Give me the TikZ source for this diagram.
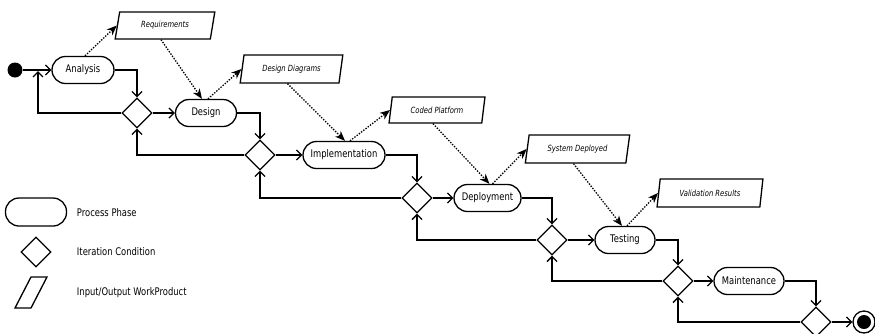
\documentclass[tikz,border=0pt]{standalone}
\usepackage{fontspec}
\setmainfont{DejaVu Sans}[FakeStretch=0.8]
\usetikzlibrary{arrows.meta,shapes.geometric,calc}

\begin{document}
\begin{tikzpicture}[x=1pt,y=-1pt,
  line width=1.3pt,
  phase/.style={draw, rectangle, rounded corners=13.5pt, minimum height=27pt,
    inner sep=0pt, font=\fontsize{10.5}{12}\selectfont},
  cond/.style={draw, diamond, minimum width=30pt, minimum height=30pt,
    inner sep=0pt, aspect=1},
  product/.style={draw, trapezium, trapezium left angle=74,
    trapezium right angle=106, trapezium stretches=true, minimum height=28pt,
    inner sep=0pt, font=\fontsize{8.5}{10}\selectfont\itshape},
  flow/.style={-{Straight Barb[length=5pt,width=10pt]}},
  data/.style={dash pattern=on 1.4pt off 1.4pt,
    -{Stealth[length=10pt,width=8pt,inset=3pt]}},
  legendtext/.style={anchor=west, font=\fontsize{10.5}{12}\selectfont}
]
\useasboundingbox (0,0) rectangle (875,333);

% start and end states
\node[circle, fill, inner sep=0pt, minimum size=15pt] (start) at (15,70) {};
\node[circle, draw, inner sep=0pt, minimum size=22pt] (stop) at (864,322) {};
\node[circle, fill, inner sep=0pt, minimum size=14pt] (stopdot) at (stop) {};

% process phases
\node[phase, minimum width=62pt] (an) at (83,70) {Analysis};
\node[phase, minimum width=61pt] (de) at (206,113) {Design};
\node[phase, minimum width=82pt] (im) at (344,155) {Implementation};
\node[phase, minimum width=67pt] (dp) at (487.5,198) {Deployment};
\node[phase, minimum width=60pt] (te) at (625,240) {Testing};
\node[phase, minimum width=70pt] (ma) at (749,281) {Maintenance};

% iteration conditions
\node[cond] (d1) at (137,113) {};
\node[cond] (d2) at (260,155) {};
\node[cond] (d3) at (417,198) {};
\node[cond] (d4) at (552,240) {};
\node[cond] (d5) at (678,281) {};
\node[cond] (d6) at (816,322) {};

% work products
\node[product, minimum width=100pt, minimum height=27pt] (req) at (165,25.5) {Requirements};
\node[product, minimum width=103pt] (dd) at (291.5,69) {Design Diagrams};
\node[product, minimum width=96pt, minimum height=26pt] (cp) at (437,110) {Coded Platform};
\node[product, minimum width=105pt] (sd) at (577.5,149) {System Deployed};
\node[product, minimum width=106pt] (vr) at (710,193) {Validation Results};

% control flow
\coordinate (j0) at (38,71);
\draw[flow] (start) -- (an);
\draw[flow] (an.east) -| (d1.north);
\draw[flow] (d1.east) -- (de.west);
\draw[flow] (d1.west) -| (j0);
\draw[flow] (de.east) -| (d2.north);
\draw[flow] (d2.east) -- (im.west);
\draw[flow] (d2.west) -| (d1.south);
\draw[flow] (im.east) -| (d3.north);
\draw[flow] (d3.east) -- (dp.west);
\draw[flow] (d3.west) -| (d2.south);
\draw[flow] (dp.east) -| (d4.north);
\draw[flow] (d4.east) -- (te.west);
\draw[flow] (d4.west) -| (d3.south);
\draw[flow] (te.east) -| (d5.north);
\draw[flow] (d5.east) -- (ma.west);
\draw[flow] (d5.west) -| (d4.south);
\draw[flow] (ma.east) -| (d6.north);
\draw[flow] (d6.east) -- (stop.west);
\draw[flow] (d6.west) -| (d5.south);

% data flow
\draw[data] ([xshift=2pt]an.north) -- (req.left side);
\draw[data] ([xshift=-4pt]req.south) -- ([xshift=-4pt]de.north);
\draw[data] ([xshift=2pt]de.north) -- (dd.left side);
\draw[data] ([xshift=-4pt]dd.south) -- ([xshift=1pt]im.north);
\draw[data] ([xshift=6pt]im.north) -- (cp.left side);
\draw[data] ([xshift=-4pt]cp.south) -- ([xshift=2pt]dp.north);
\draw[data] ([xshift=5pt]dp.north) -- (sd.left side);
\draw[data] ([xshift=-4pt]sd.south) -- ([xshift=-3pt]te.north);
\draw[data] ([xshift=2pt]te.north) -- (vr.left side);

% legend
\node[phase, minimum width=61pt, minimum height=28pt] (lp) at (36,212) {};
\node[cond] (lc) at (36,252) {};
\node[product, minimum width=32pt, minimum height=31pt,
  trapezium left angle=79, trapezium right angle=101] (lw) at (31,292.5) {\strut};
\node[legendtext] (lpt) at (73,213) {Process Phase};
\node[legendtext] (lct) at (73,252) {Iteration Condition};
\node[legendtext] (lwt) at (73,293) {Input/Output WorkProduct};
\end{tikzpicture}
\end{document}
